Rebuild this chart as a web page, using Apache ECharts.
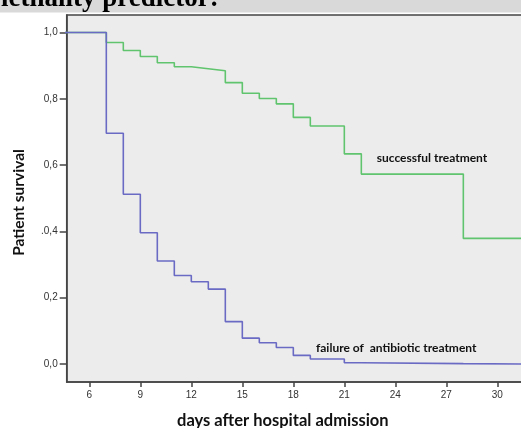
<!DOCTYPE html>
<html>
<head>
<meta charset="utf-8">
<script src="https://cdn.jsdelivr.net/npm/echarts@6/dist/echarts.min.js"></script>
<style>
  html, body { margin: 0; padding: 0; background: #fff; }
  #chart { width: 521px; height: 428px; }
</style>
</head>
<body>
<div id="chart"></div>
<script>
// survival curves (day when each level starts)
var days = [0, 7, 8, 9, 10, 11, 12, 13, 14, 15, 16, 17, 18, 19, 21, 22, 28, 32];
var successSurv = [1.0, 0.970, 0.946, 0.928, 0.909, 0.897, 0.891, 0.885, 0.849, 0.817, 0.801, 0.785, 0.744, 0.718, 0.634, 0.573, 0.379, 0.379];
var failureSurv = [1.0, 0.696, 0.512, 0.396, 0.311, 0.267, 0.248, 0.226, 0.128, 0.078, 0.064, 0.050, 0.026, 0.015, 0.004, 0.001, 0.0, 0.0];

var xTicks = [6, 9, 12, 15, 18, 21, 24, 27, 30];
var yTicks = [0, 0.2, 0.4, 0.6, 0.8, 1.0];
var yTickLabels = ['0,0', '0,2', '.0,4', '0,6', '0,8', '1,0'];

var chart;

function pairs(xs, ys) {
    var out = [];
    for (var i = 0; i < xs.length; i++) {
        out.push([xs[i], ys[i]]);
    }
    return out;
}

function initChart() {
    if (chart) {
        chart.dispose();
    }
    chart = echarts.init(document.getElementById('chart'));

    var axisColor = '#444';
    var option = {
        animation: false,
        backgroundColor: '#fff',
        grid: {
            left: 66.7,
            top: 15,
            right: -2,
            bottom: 46,
            outerBoundsMode: 'none',
            show: true,
            backgroundColor: '#ececec',
            borderColor: axisColor,
            borderWidth: 1.5
        },
        xAxis: {
            type: 'value',
            min: 4.67,
            max: 31.51,
            name: 'days after hospital admission',
            nameLocation: 'middle',
            nameGap: 30,
            nameTextStyle: {
                fontFamily: 'Lato', fontWeight: 'bold', fontSize: 16.5, color: '#111',
                padding: [0, 24, 0, 0]
            },
            splitLine: { show: false },
            axisLine: { onZero: false, lineStyle: { color: axisColor, width: 1.5 } },
            axisTick: { customValues: xTicks, length: 5, lineStyle: { color: axisColor, width: 1.5 } },
            axisLabel: {
                customValues: xTicks,
                margin: 8,
                fontFamily: 'Liberation Sans',
                fontSize: 10,
                color: '#333'
            }
        },
        yAxis: {
            type: 'value',
            min: -0.0543,
            max: 1.053,
            name: 'Patient survival',
            nameLocation: 'middle',
            nameGap: 40,
            nameTextStyle: {
                fontFamily: 'Lato', fontWeight: 'bold', fontSize: 15.5, color: '#111',
                padding: [0, 8, 0, 0]
            },
            splitLine: { show: false },
            axisLine: { show: true, onZero: false, lineStyle: { color: axisColor, width: 1.5 } },
            axisTick: { show: true, customValues: yTicks, length: 7, lineStyle: { color: axisColor, width: 1.5 } },
            axisLabel: {
                customValues: yTicks,
                margin: 9,
                fontFamily: 'Liberation Sans',
                fontSize: 10,
                color: '#333',
                formatter: function (v) {
                    for (var i = 0; i < yTicks.length; i++) {
                        if (Math.abs(yTicks[i] - v) < 1e-6) return yTickLabels[i];
                    }
                    return '';
                }
            }
        },
        series: [
            {
                name: 'successful treatment',
                type: 'line',
                step: 'end',
                showSymbol: false,
                clip: true,
                data: pairs(days, successSurv),
                lineStyle: { color: '#5fc46d', width: 1.6 }
            },
            {
                name: 'failure of antibiotic treatment',
                type: 'line',
                step: 'end',
                showSymbol: false,
                clip: true,
                data: pairs(days, failureSurv),
                lineStyle: { color: '#6a6ac4', width: 1.6 }
            }
        ],
        graphic: [
            {
                type: 'rect',
                shape: { x: 0, y: 0, width: 521, height: 12.5 },
                style: { fill: '#d9d9d9' },
                z: 10
            },
            {
                type: 'text',
                style: {
                    x: 1, y: -0.5,
                    text: 'lethality predictor:',
                    font: 'bold 27px "Liberation Serif"',
                    fill: '#000',
                    verticalAlign: 'middle'
                },
                z: 11
            },
            {
                type: 'text',
                style: {
                    x: 376.7, y: 157.7,
                    text: 'successful treatment',
                    font: 'bold 12px Lato',
                    fill: '#111',
                    verticalAlign: 'middle'
                },
                z: 11
            },
            {
                type: 'text',
                style: {
                    x: 316, y: 348.3,
                    text: 'failure of  antibiotic treatment',
                    font: 'bold 12px Lato',
                    fill: '#111',
                    verticalAlign: 'middle'
                },
                z: 11
            }
        ]
    };

    chart.setOption(option);
}

initChart();
</script>
</body>
</html>
